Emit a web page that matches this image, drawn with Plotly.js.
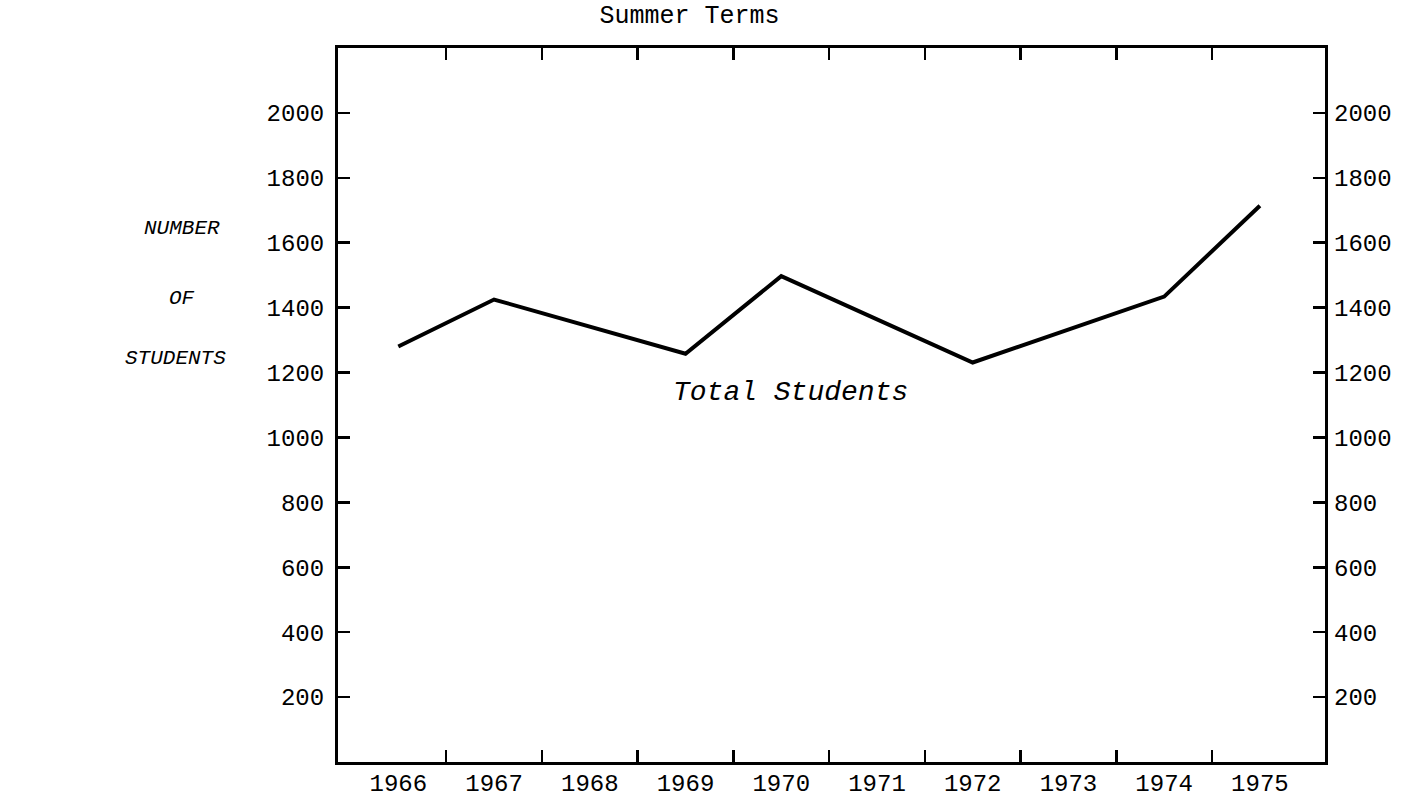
<!DOCTYPE html>
<html>
<head>
<meta charset="utf-8">
<script src="https://cdn.plot.ly/plotly-3.0.1.min.js"></script>
<style>
  html, body { margin: 0; padding: 0; background: #fff; }
  #chart { width: 1416px; height: 798px; }
</style>
</head>
<body>
<div id="chart"></div>
<script>
// ---- data ----
const years = [1966, 1967, 1969, 1970, 1972, 1974, 1975];
const students = [1280, 1425, 1258, 1497, 1231, 1434, 1714];

const yearLabels = [1966, 1967, 1968, 1969, 1970, 1971, 1972, 1973, 1974, 1975];
const yearTickMarks = [1966.5, 1967.5, 1968.5, 1969.5, 1970.5, 1971.5, 1972.5, 1973.5, 1974.5];
const yTickVals = [200, 400, 600, 800, 1000, 1200, 1400, 1600, 1800, 2000];

const chartTitle = "Summer Terms";
const seriesLabel = "Total Students";
const yLabelLines = ["NUMBER", "OF", "STUDENTS"];

const mono = "Liberation Mono, Courier New, monospace";
const xRange = [1965.37, 1975.68];
const yRange = [0, 2200];

const trace = {
  x: years,
  y: students,
  type: "scatter",
  mode: "lines",
  line: { color: "#000", width: 4 },
  xaxis: "x",
  yaxis: "y",
  showlegend: false,
  hoverinfo: "x+y"
};

const layout = {
  width: 1416,
  height: 798,
  paper_bgcolor: "#fff",
  plot_bgcolor: "#fff",
  margin: { l: 338, r: 91, t: 48, b: 36 },
  showlegend: false,
  title: {
    text: chartTitle,
    font: { family: mono, size: 25, color: "#000" },
    x: 0.487,
    xanchor: "center",
    y: 0.982,
    yanchor: "middle"
  },
  xaxis: {
    range: xRange,
    tickmode: "array",
    tickvals: yearTickMarks,
    ticks: "inside",
    ticklen: 12,
    tickwidth: 2.5,
    tickcolor: "#000",
    showticklabels: false,
    showline: true,
    linecolor: "#000",
    linewidth: 3,
    mirror: "ticks",
    showgrid: false,
    zeroline: false
  },
  xaxis2: {
    overlaying: "x",
    anchor: "y",
    side: "bottom",
    range: xRange,
    tickmode: "array",
    tickvals: yearLabels,
    ticktext: yearLabels.map(String),
    ticks: "",
    ticklabelstandoff: 4,
    tickfont: { family: mono, size: 24, color: "#000" },
    showline: false,
    showgrid: false,
    zeroline: false
  },
  yaxis: {
    range: yRange,
    tickmode: "array",
    tickvals: yTickVals,
    ticktext: yTickVals.map(String),
    ticks: "inside",
    ticklen: 12,
    tickwidth: 2.5,
    tickcolor: "#000",
    ticklabelstandoff: 6,
    tickfont: { family: mono, size: 24, color: "#000" },
    showline: true,
    linecolor: "#000",
    linewidth: 3,
    mirror: true,
    showgrid: false,
    zeroline: false
  },
  yaxis2: {
    overlaying: "y",
    anchor: "x",
    side: "right",
    range: yRange,
    tickmode: "array",
    tickvals: yTickVals,
    ticktext: yTickVals.map(String),
    ticks: "inside",
    ticklen: 12,
    tickwidth: 2.5,
    tickcolor: "#000",
    ticklabelstandoff: 8,
    tickfont: { family: mono, size: 24, color: "#000" },
    showline: false,
    showgrid: false,
    zeroline: false
  },
  annotations: [
    {
      x: 1970.1, y: 1137, xref: "x", yref: "y",
      text: seriesLabel, showarrow: false,
      xanchor: "center", yanchor: "middle",
      font: { family: mono, size: 28, color: "#000", style: "italic" }
    },
    {
      x: 182, y: 228, xref: "paper", yref: "paper", text: yLabelLines[0], showarrow: false,
      xanchor: "center", yanchor: "middle",
      font: { family: mono, size: 21, color: "#000", style: "italic" }
    },
    {
      x: 182, y: 298, xref: "paper", yref: "paper", text: yLabelLines[1], showarrow: false,
      xanchor: "center", yanchor: "middle",
      font: { family: mono, size: 21, color: "#000", style: "italic" }
    },
    {
      x: 175, y: 358, xref: "paper", yref: "paper", text: yLabelLines[2], showarrow: false,
      xanchor: "center", yanchor: "middle",
      font: { family: mono, size: 21, color: "#000", style: "italic" }
    }
  ]
};

// convert the side-label pixel positions into paper fractions
const plotW = layout.width - layout.margin.l - layout.margin.r;
const plotH = layout.height - layout.margin.t - layout.margin.b;
for (let i = 1; i < 4; i++) {
  const a = layout.annotations[i];
  a.x = (a.x - layout.margin.l) / plotW;
  a.y = (layout.height - layout.margin.b - a.y) / plotH;
}

// a hidden helper trace so the overlaying axes are drawn
const helperX = {
  x: [xRange[0]], y: [yRange[0]], xaxis: "x2", yaxis: "y2",
  type: "scatter", mode: "markers", marker: { opacity: 0 },
  hoverinfo: "skip", showlegend: false
};

Plotly.newPlot("chart", [trace, helperX], layout, { staticPlot: true, displayModeBar: false });
</script>
</body>
</html>
